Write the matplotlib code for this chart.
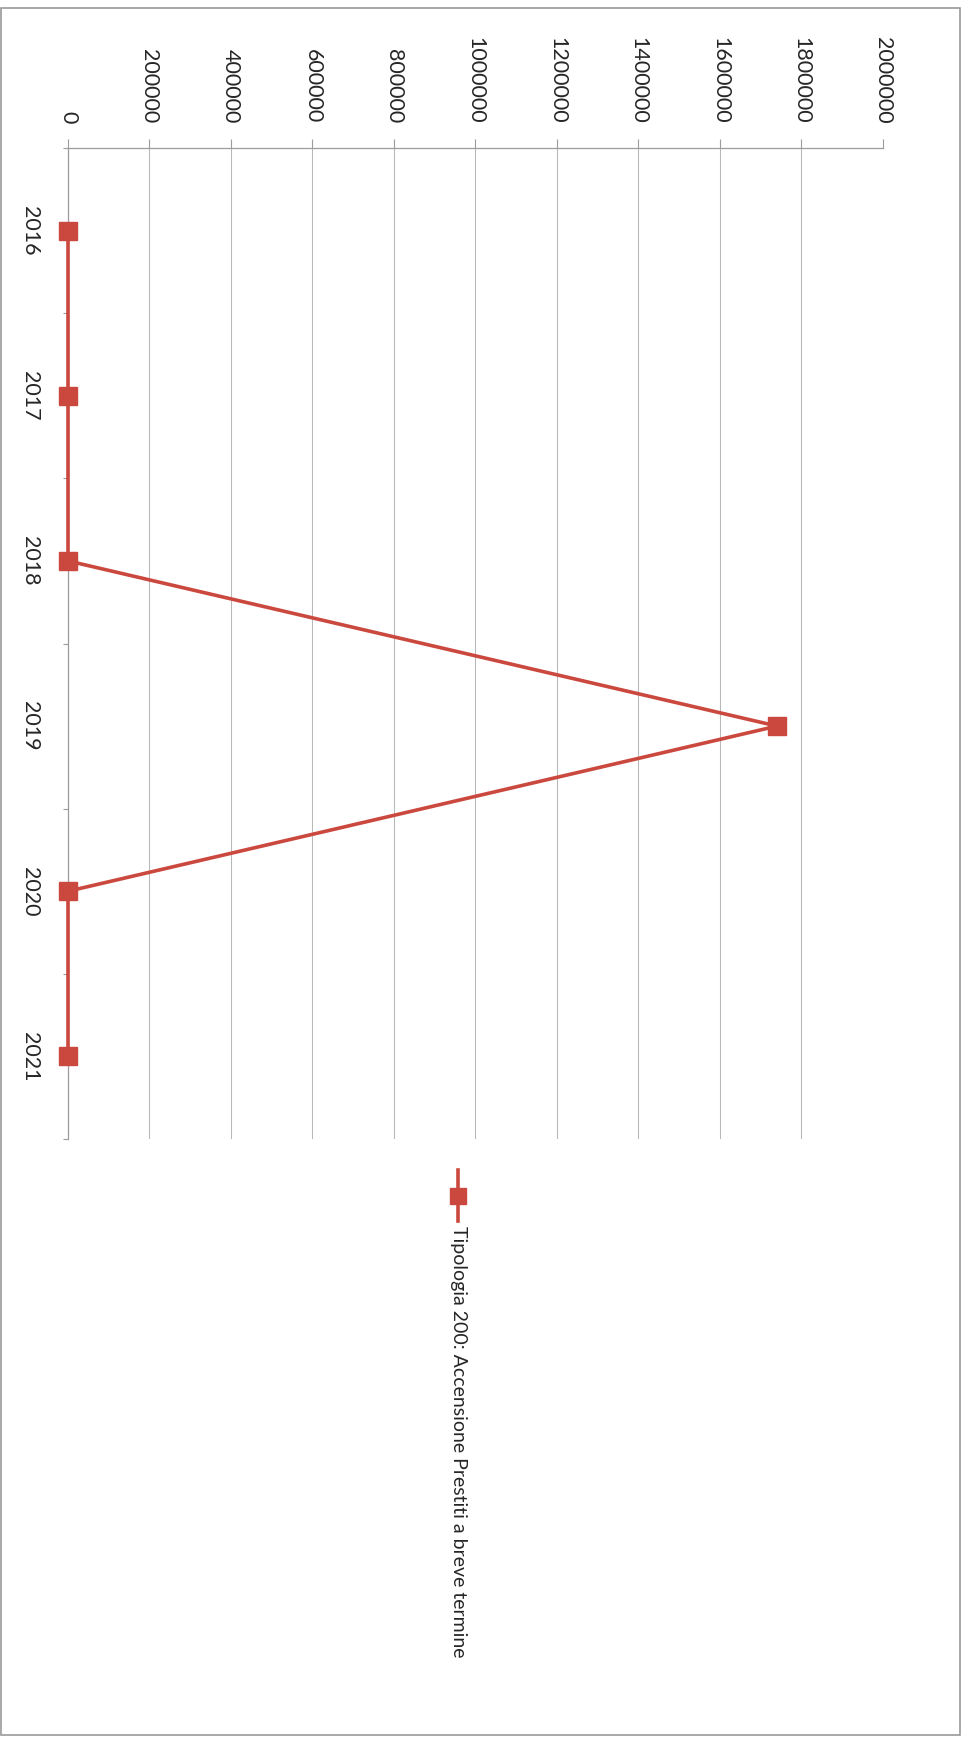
import matplotlib
matplotlib.use('Agg')
import matplotlib.pyplot as plt
from matplotlib.lines import Line2D
from matplotlib.patches import Rectangle
import numpy as np

# ---- data ----
years = ['2016', '2017', '2018', '2019', '2020', '2021']
values = [0, 0, 0, 1740000, 0, 0]
value_ticks = [0, 200000, 400000, 600000, 800000, 1000000,
               1200000, 1400000, 1600000, 1800000, 2000000]
series_name = 'Tipologia 200: Accensione Prestiti a breve termine'

RED = '#cb483e'
GRID = '#b8b8b8'
AXIS = '#9c9c9c'
TXT = '#262626'
FONT = ['Lato', 'DejaVu Sans']

W, H = 979, 1737
fig = plt.figure(figsize=(W / 100, H / 100), dpi=100)
fig.patch.set_facecolor('white')


def fx(px):
    return px / W


def fy(py):
    return 1 - py / H


left, right, top, bottom = 68, 883, 148, 1139
ax = fig.add_axes([fx(left), fy(bottom), fx(right) - fx(left), fy(top) - fy(bottom)])

pos = np.arange(len(years))
ax.plot(values, pos, color=RED, lw=2.6, marker='s', ms=13,
        mfc=RED, mec=RED, clip_on=False, zorder=5)

ax.set_xlim(value_ticks[0], value_ticks[-1])
ax.set_ylim(len(years) - 0.5, -0.5)

ax.xaxis.tick_top()
ax.set_xticks(value_ticks)
ax.set_xticklabels([str(v) for v in value_ticks], rotation=-90,
                   fontfamily=FONT, fontsize=15.5, color=TXT)
ax.tick_params(axis='x', top=True, bottom=False, length=6.5, width=0.8,
               color=AXIS, pad=11)

ax.set_yticks(pos)
ax.set_yticklabels(years, rotation=-90, va='center',
                   fontfamily=FONT, fontsize=15.5, color=TXT)
ax.tick_params(axis='y', which='major', length=0, pad=20)
ax.set_yticks(np.arange(-0.5, len(years)), minor=True)
ax.tick_params(axis='y', which='minor', length=3.6, width=0.8, color=AXIS)

ax.grid(axis='x', color=GRID, lw=0.75)
ax.set_axisbelow(True)
for s in ['right', 'bottom']:
    ax.spines[s].set_visible(False)
for s in ['top', 'left']:
    ax.spines[s].set_color(AXIS)
    ax.spines[s].set_linewidth(0.9)

# legend (rotated, drawn manually)
lx = fx(458)
fig.add_artist(Line2D([lx, lx], [fy(1170), fy(1221)], transform=fig.transFigure,
                      color=RED, lw=2.6))
fig.add_artist(Line2D([lx], [fy(1196)], transform=fig.transFigure, marker='s',
                      ms=12, mfc=RED, mec=RED, lw=0))
fig.text(lx, fy(1226), series_name, rotation=-90, ha='center', va='top',
         fontfamily=FONT, fontsize=14, color=TXT)

# chart border
fig.add_artist(Rectangle((fx(1), fy(1735)), fx(960) - fx(1), fy(8) - fy(1735),
                         transform=fig.transFigure, fill=False, ec='#9a9a9a', lw=1.2))

fig.savefig('out.png', dpi=100, facecolor='white')
